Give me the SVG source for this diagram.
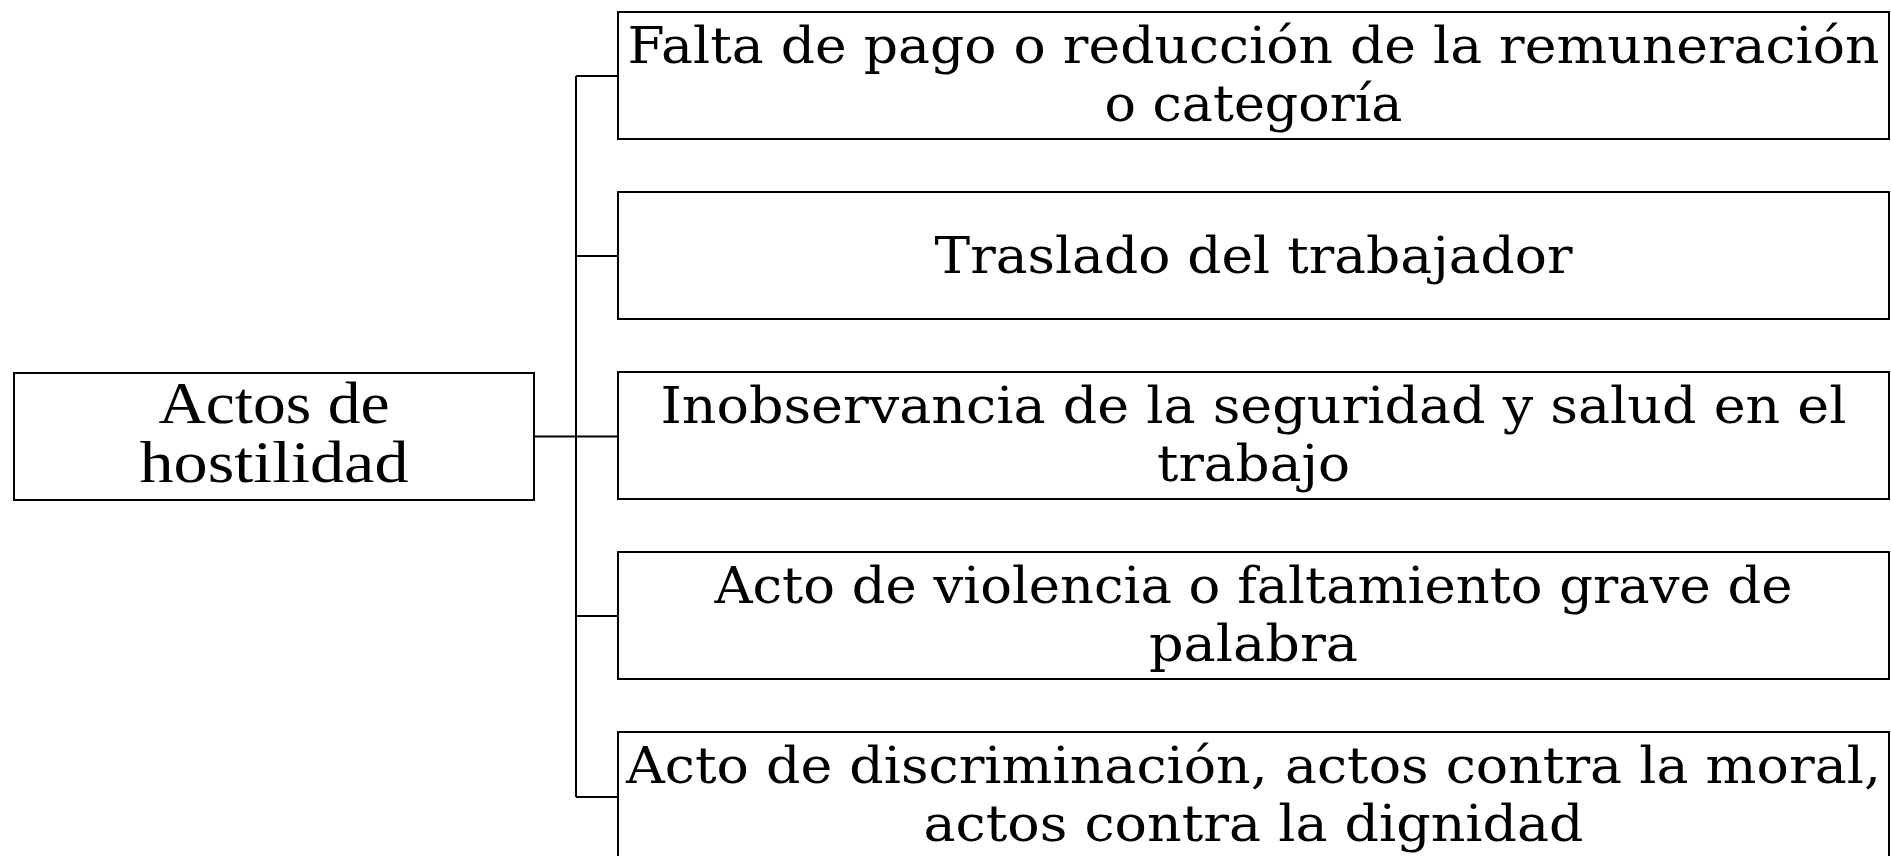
<svg xmlns="http://www.w3.org/2000/svg" width="1891" height="856" viewBox="0 0 1891 856">
<style>
.b{fill:#fff;stroke:#000;stroke-width:2}
.c{fill:none;stroke:#000;stroke-width:2}
.t{font-family:"DejaVu Serif",serif;font-size:50px;fill:#000;text-anchor:middle}
.l{font-family:"Liberation Serif",serif;font-size:60px;fill:#000;text-anchor:middle}
</style>
<rect x="0" y="0" width="1891" height="856" style="fill:#fff;stroke:none"/>
<g id="connectors">
<path class="c" d="M534 436.5H576M576 76V797M576 76H618M576 256H618M576 436.5H618M576 616H618M576 797H618"/>
</g>
<g id="root">
<rect class="b" x="14" y="373" width="520" height="127"/>
<text class="l" x="274" y="423" textLength="231" lengthAdjust="spacingAndGlyphs">Actos de</text>
<text class="l" x="274" y="482" textLength="269" lengthAdjust="spacingAndGlyphs">hostilidad</text>
</g>
<g id="n1">
<rect class="b" x="618" y="12" width="1271" height="127"/>
<text class="t" x="1253.5" y="63" textLength="1252" lengthAdjust="spacingAndGlyphs">Falta de pago o reducción de la remuneración</text>
<text class="t" x="1253.5" y="121" textLength="298" lengthAdjust="spacingAndGlyphs">o categoría</text>
</g>
<g id="n2">
<rect class="b" x="618" y="192" width="1271" height="127"/>
<text class="t" x="1253.5" y="273" textLength="638" lengthAdjust="spacingAndGlyphs">Traslado del trabajador</text>
</g>
<g id="n3">
<rect class="b" x="618" y="372" width="1271" height="127"/>
<text class="t" x="1253.5" y="423" textLength="1186" lengthAdjust="spacingAndGlyphs">Inobservancia de la seguridad y salud en el</text>
<text class="t" x="1253.5" y="481" textLength="193" lengthAdjust="spacingAndGlyphs">trabajo</text>
</g>
<g id="n4">
<rect class="b" x="618" y="552" width="1271" height="127"/>
<text class="t" x="1253.5" y="603" textLength="1078" lengthAdjust="spacingAndGlyphs">Acto de violencia o faltamiento grave de</text>
<text class="t" x="1253.5" y="661" textLength="209" lengthAdjust="spacingAndGlyphs">palabra</text>
</g>
<g id="n5">
<rect class="b" x="618" y="732" width="1271" height="127"/>
<text class="t" x="1253.5" y="783" textLength="1255" lengthAdjust="spacingAndGlyphs">Acto de discriminación, actos contra la moral,</text>
<text class="t" x="1253.5" y="841" textLength="660" lengthAdjust="spacingAndGlyphs">actos contra la dignidad</text>
</g>
</svg>
